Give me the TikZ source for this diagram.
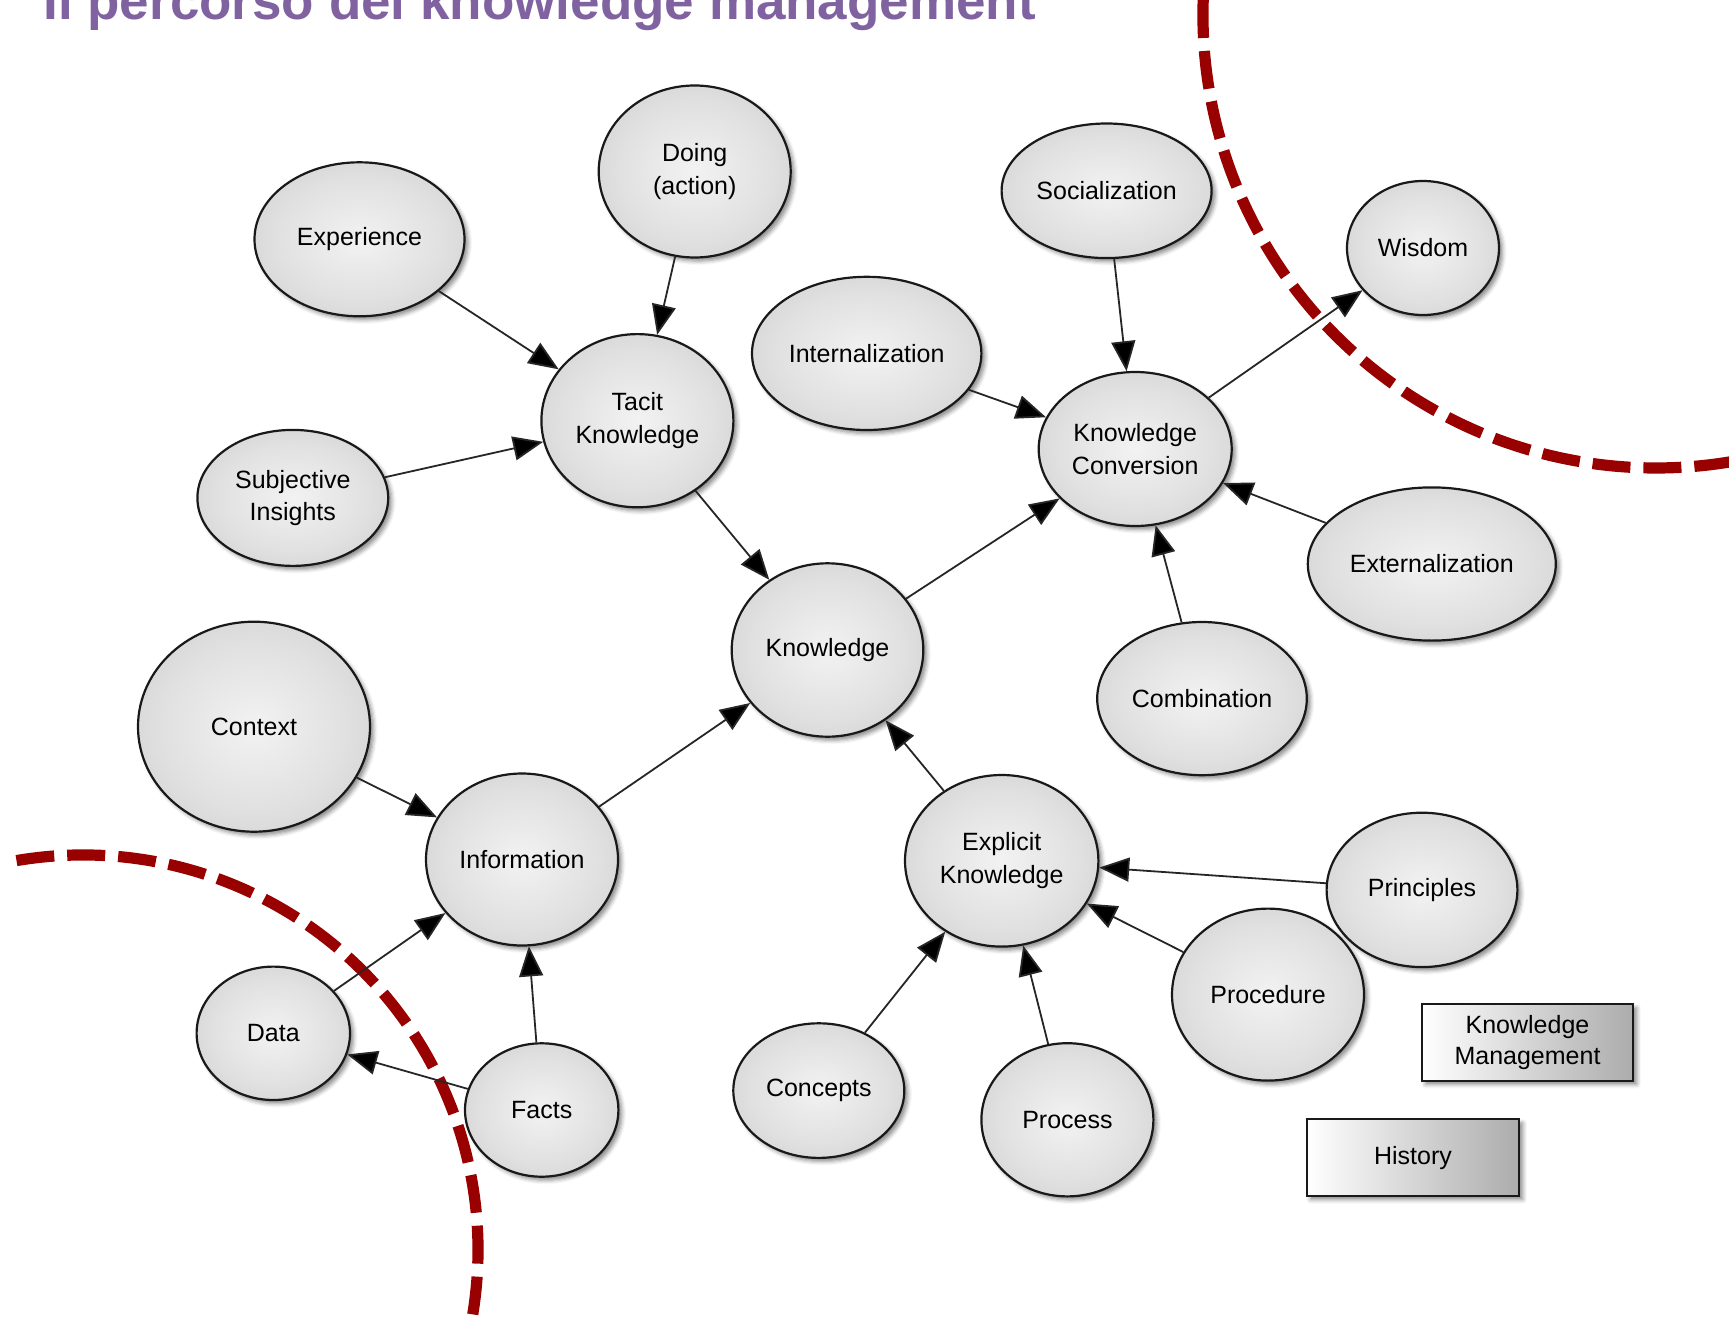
\documentclass[tikz,border=0pt]{standalone}
\usepackage{fontspec}
\setmainfont{Liberation Sans}
\usetikzlibrary{arrows.meta,shapes.geometric,shadows.blur}
\definecolor{kmpurple}{RGB}{128,98,161}
\definecolor{kmred}{RGB}{153,0,0}
\definecolor{rimgray}{gray}{0.62}
\definecolor{midgray}{gray}{0.78}
\definecolor{lightgray2}{gray}{0.88}
\definecolor{ctrgray}{gray}{0.95}
\pgfdeclareradialshading{ellshade}{\pgfpoint{0bp}{0bp}}{color(0bp)=(ctrgray); color(20bp)=(lightgray2); color(40bp)=(midgray); color(50bp)=(rimgray); color(72bp)=(rimgray)}
\begin{document}
\begin{tikzpicture}[x=0.5pt,y=-0.5pt,
  bub/.style={ellipse, draw=black!90, line width=1.1pt, inner sep=0pt,
    shading=ellshade, align=center, text=black,
    font=\fontsize{12.5}{16.3}\selectfont,
    blur shadow={shadow xshift=1.8pt, shadow yshift=-1.8pt, shadow blur radius=2pt, shadow opacity=45}},
  sz/.style 2 args={minimum width=#1pt, minimum height=#2pt},
  boxnode/.style={rectangle, draw=black!90, line width=1.1pt, inner sep=0pt,
    left color=white, right color=gray!65, align=center, text=black,
    font=\fontsize{12.5}{15.8}\selectfont,
    blur shadow={shadow xshift=1.8pt, shadow yshift=-1.8pt, shadow blur radius=2pt, shadow opacity=45}},
  conn/.style={draw=black!85, line width=0.9pt, -{Triangle[length=15pt,width=12pt,fill=black]}},
  dasharc/.style={draw=kmred, line width=5.6pt, dash pattern=on 19pt off 6.5pt}
]
\useasboundingbox (0,0) rectangle (1729,1321);

% title
\node[anchor=base west, inner sep=0pt, text=kmpurple,
  font=\fontsize{26.5}{30}\selectfont\bfseries] (title) at (43,20) {Il percorso del knowledge management};

% dashed arcs
\draw[dasharc] (1203.2,0) arc[start angle=181.9, end angle=80.6, radius=453];
\draw[dasharc] (16.5,860.6) arc[start angle=260.3, end angle=370.4, radius=395];

% nodes
\node[bub, sz={96}{86}] (doing) at (694.7,171.5) {Doing\\(action)};
\node[bub, sz={105}{77}] (exper) at (359.5,239.3) {Experience};
\node[bub, sz={96}{86.6}] (tacit) at (637.4,420.7) {Tacit\\Knowledge};
\node[bub, sz={95.4}{68}] (subj) at (292.8,497.9) {Subjective\\Insights};
\node[bub, sz={105}{67.3}] (social) at (1106.6,190.8) {Socialization};
\node[bub, sz={114.7}{76.6}] (intern) at (866.7,353.4) {Internalization};
\node[bub, sz={96.5}{77}] (kc) at (1135.2,449) {Knowledge\\Conversion};
\node[bub, sz={76}{67}] (wisdom) at (1423,248) {Wisdom};
\node[bub, sz={124}{76.6}] (extern) at (1431.8,564) {Externalization};
\node[bub, sz={104.8}{76.6}] (combin) at (1202,698.6) {Combination};
\node[bub, sz={95.8}{86.7}] (know) at (827.5,650) {Knowledge};
\node[bub, sz={116}{105}] (context) at (254,726.7) {Context};
\node[bub, sz={96}{86}] (info) at (522,859.5) {Information};
\node[bub, sz={96.7}{85.8}] (explicit) at (1001.7,860.8) {Explicit\\Knowledge};
\node[bub, sz={95.4}{77.2}] (princ) at (1422,889.9) {Principles};
\node[bub, sz={96}{86}] (proced) at (1268,994.6) {Procedure};
\node[bub, sz={76.7}{66.7}] (data) at (273.3,1033.3) {Data};
\node[bub, sz={76.7}{66.7}] (facts) at (541.7,1110) {Facts};
\node[bub, sz={85.5}{67.3}] (concepts) at (818.8,1090.6) {Concepts};
\node[bub, sz={86}{76.6}] (process) at (1067.4,1119.8) {Process};

\node[boxnode, minimum width=105.8pt, minimum height=38.5pt] (km) at (1527.5,1042.5) {Knowledge\\Management};
\node[boxnode, minimum width=106.3pt, minimum height=38.4pt] (history) at (1413,1157.7) {History};

% connectors
\draw[conn] (doing) -- (tacit);
\draw[conn] (exper) -- (tacit);
\draw[conn] (subj) -- (tacit);
\draw[conn] (tacit) -- (know);
\draw[conn] (know) -- (kc);
\draw[conn] (social) -- (kc);
\draw[conn] (intern) -- (kc);
\draw[conn] (extern) -- (kc);
\draw[conn] (combin) -- (kc);
\draw[conn] (kc) -- (wisdom);
\draw[conn] (context) -- (info);
\draw[conn] (info) -- (know);
\draw[conn] (data) -- (info);
\draw[conn] (facts) -- (info);
\draw[conn] (facts) -- (data);
\draw[conn] (explicit) -- (know);
\draw[conn] (princ) -- (explicit);
\draw[conn] (proced) -- (explicit);
\draw[conn] (concepts) -- (explicit);
\draw[conn] (process) -- (explicit);
\end{tikzpicture}
\end{document}
